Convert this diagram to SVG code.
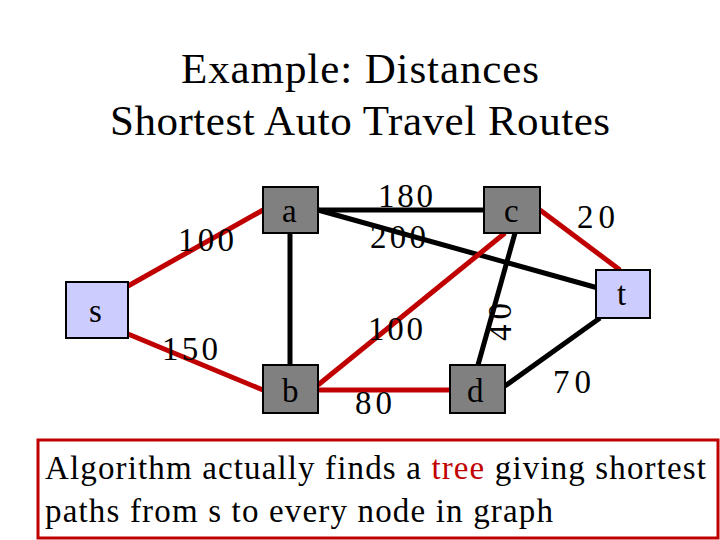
<svg xmlns="http://www.w3.org/2000/svg" width="720" height="540" viewBox="0 0 720 540">
<style>
text{font-family:"Liberation Serif",serif;fill:#000}
.t{font-size:43px;text-anchor:middle}
.l{font-size:33px}
.g{fill:#808080;stroke:#000;stroke-width:2}
.b{fill:#ccccff;stroke:#000;stroke-width:2}
.k{stroke:#000;stroke-width:5}
.r{stroke:#c00000;stroke-width:5}
</style>
<rect width="720" height="540" fill="#fff"/>
<text class="t" x="360" y="83" textLength="358" lengthAdjust="spacing">Example:  Distances</text>
<text class="t" x="360" y="135" textLength="500" lengthAdjust="spacing">Shortest Auto Travel Routes</text>
<g id="connectors">
<line class="r" x1="128" y1="286" x2="263" y2="210"/>
<line class="r" x1="128" y1="334" x2="263" y2="390"/>
<line class="k" x1="318" y1="210" x2="484" y2="210"/>
<line class="k" x1="290" y1="233" x2="290" y2="365"/>
<line class="k" x1="318" y1="210" x2="598" y2="288"/>
<line class="r" x1="318" y1="390" x2="450" y2="390"/>
<line class="k" x1="515" y1="233" x2="478" y2="365"/>
<line class="r" x1="505" y1="233" x2="318" y2="385"/>
<line class="r" x1="540" y1="210" x2="620" y2="270"/>
<line class="k" x1="505" y1="386" x2="600" y2="318"/>
</g>
<g id="s"><rect class="b" x="66" y="282" width="62" height="56"/><text class="l" x="89" y="322">s</text></g>
<g id="a"><rect class="g" x="263" y="187" width="55" height="46"/><text class="l" x="282" y="222">a</text></g>
<g id="c"><rect class="g" x="484" y="187" width="56" height="46"/><text class="l" x="504" y="222">c</text></g>
<g id="t"><rect class="b" x="596" y="270" width="54" height="48"/><text class="l" x="617" y="305">t</text></g>
<g id="b"><rect class="g" x="263" y="365" width="55" height="48"/><text class="l" x="282" y="402">b</text></g>
<g id="d"><rect class="g" x="450" y="365" width="55" height="48"/><text class="l" x="467" y="402">d</text></g>
<g id="labels">
<text class="l" x="178" y="251" textLength="56">100</text>
<text class="l" x="162" y="360" textLength="56">150</text>
<text class="l" x="378" y="207" textLength="55">180</text>
<text class="l" x="370" y="248" textLength="56">200</text>
<text class="l" x="368" y="340" textLength="55">100</text>
<text class="l" x="355" y="414" textLength="37">80</text>
<text class="l" x="553" y="393" textLength="38">70</text>
<text class="l" x="577" y="228" textLength="38">20</text>
<text class="l" transform="translate(511,341) rotate(-90)" textLength="38">40</text>
</g>
<g id="note">
<rect x="38" y="440" width="680" height="98" fill="none" stroke="#c00000" stroke-width="3"/>
<text class="l" x="45" y="479" font-size="34" textLength="661" lengthAdjust="spacing">Algorithm actually finds a <tspan fill="#c00000">tree</tspan> giving shortest</text>
<text class="l" x="45" y="522" font-size="34" textLength="508" lengthAdjust="spacing">paths from s to every node in graph</text>
</g>
</svg>
